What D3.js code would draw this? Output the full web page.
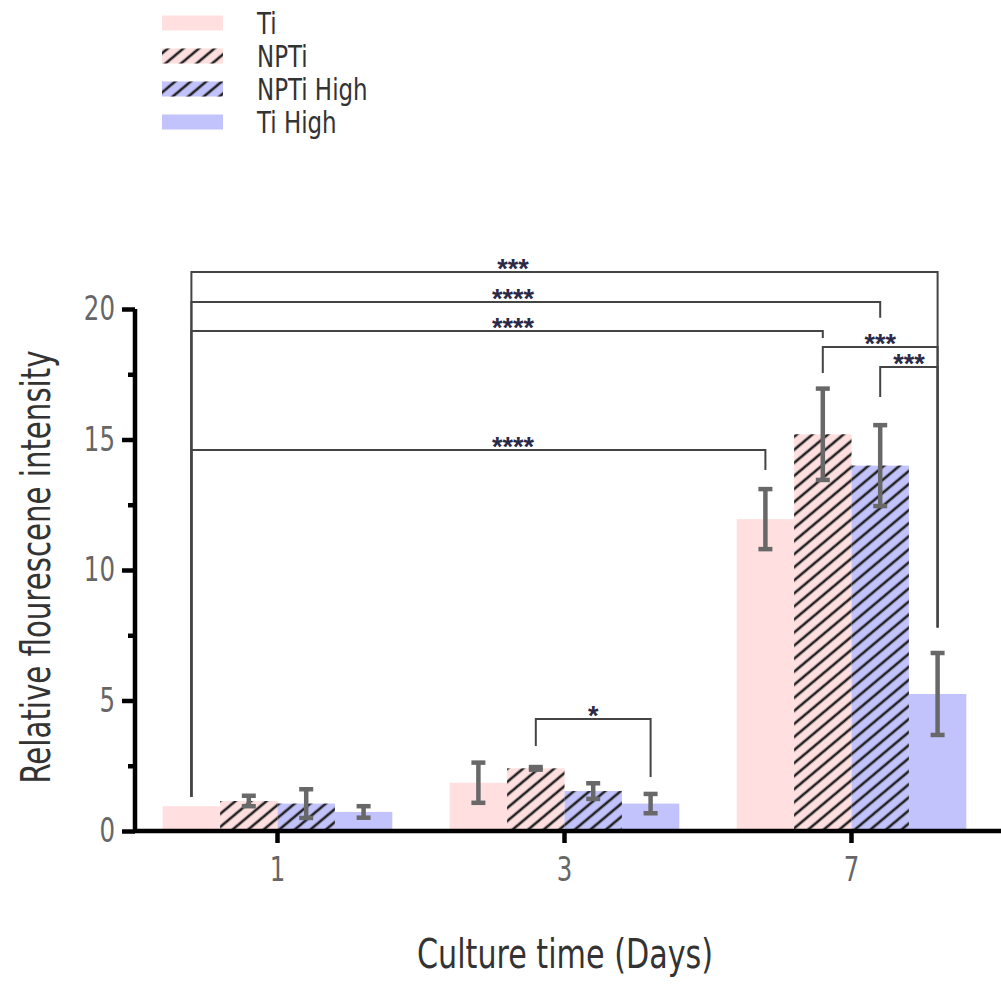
<!DOCTYPE html>
<html>
<head>
<meta charset="utf-8">
<script src="https://cdn.jsdelivr.net/npm/d3@7"></script>
<style>
  html, body { margin: 0; padding: 0; background: #fff; }
  svg { display: block; }
  text { font-family: "Liberation Sans Narrow", "DejaVu Sans Condensed", "DejaVu Sans", sans-serif; font-stretch: condensed; }
</style>
</head>
<body>
<svg id="chart" width="1001" height="989"></svg>
<script>
// ---------------- data ----------------
const days = ["1", "3", "7"];
const seriesNames = ["Ti", "NPTi", "NPTi High", "Ti High"];
const tiValues       = [0.95, 1.85, 11.95];
const tiErrors       = [0,    0.77, 1.15];
const nptiValues     = [1.15, 2.40, 15.20];
const nptiErrors     = [0.20, 0.05, 1.75];
const nptiHighValues = [1.05, 1.53, 14.00];
const nptiHighErrors = [0.55, 0.30, 1.55];
const tiHighValues   = [0.73, 1.05, 5.25];
const tiHighErrors   = [0.22, 0.37, 1.57];
const yMajorTicks = [0, 5, 10, 15, 20];
const yMinorTicks = [2.5, 7.5, 12.5, 17.5];
// significance brackets: [fromDay, fromSeries, toDay, toSeries, level, leftLegEnd, rightLegEnd, label, labelAtFixedX]
const brackets = [
  ["1", "Ti",        "7", "Ti High",   21.42, 1.30, 7.80,  "***",  true],
  ["1", "Ti",        "7", "NPTi High", 20.27, 1.30, 19.66, "****", true],
  ["1", "Ti",        "7", "NPTi",      19.16, 1.30, 18.89, "****", true],
  ["1", "Ti",        "7", "Ti",        14.60, 1.30, 13.83, "****", true],
  ["7", "NPTi",      "7", "Ti High",   18.54, 17.55, 7.80, "***",  false],
  ["7", "NPTi High", "7", "Ti High",   17.78, 16.63, 7.80, "***",  false],
  ["3", "NPTi",      "3", "Ti High",   4.29,  3.26, 2.07,  "*",    false]
];

const valueSets = [tiValues, nptiValues, nptiHighValues, tiHighValues];
const errorSets = [tiErrors, nptiErrors, nptiHighErrors, tiHighErrors];
const fills = ["#ffdfdf", "#ffdfdf", "#c2c2fc", "#c2c2fc"];
const hatched = [false, true, true, false];

// ---------------- helpers ----------------
function condense(sel, factor) {
  sel.each(function () {
    const w = this.getComputedTextLength();
    d3.select(this).attr("textLength", w * factor).attr("lengthAdjust", "spacingAndGlyphs");
  });
}
function fitWidth(sel, width) {
  sel.attr("textLength", width).attr("lengthAdjust", "spacingAndGlyphs");
}

// ---------------- layout ----------------
const svg = d3.select("#chart");
const x0 = d3.scaleBand().domain(days).range([134, 995]).paddingInner(0.2).paddingOuter(0.1);
const x1 = d3.scaleBand().domain(seriesNames).range([0, x0.bandwidth()]).padding(0);
const y = d3.scaleLinear().domain([0, 20]).range([831, 309]);
const barX = (d, s) => x0(d) + x1(s);
const barC = (d, s) => x0(d) + x1(s) + x1.bandwidth() / 2;

// hatch pattern
const defs = svg.append("defs");
const pat = defs.append("pattern")
  .attr("id", "hatch")
  .attr("patternUnits", "userSpaceOnUse")
  .attr("width", 10).attr("height", 10)
  .attr("patternTransform", "rotate(-40)");
pat.append("line")
  .attr("x1", -2).attr("x2", 12).attr("y1", 5).attr("y2", 5)
  .attr("stroke", "#222").attr("stroke-width", 2.6);

// ---------------- bars ----------------
const barData = [];
days.forEach((d, di) => {
  seriesNames.forEach((s, si) => {
    barData.push({ day: d, series: s, si, v: valueSets[si][di], e: errorSets[si][di] });
  });
});

const gBars = svg.append("g");
gBars.selectAll("rect.bar").data(barData).join("rect")
  .attr("class", "bar")
  .attr("x", d => barX(d.day, d.series))
  .attr("width", x1.bandwidth())
  .attr("y", d => y(d.v))
  .attr("height", d => y(0) - y(d.v))
  .attr("fill", d => fills[d.si]);
gBars.selectAll("rect.hatch").data(barData.filter(d => hatched[d.si])).join("rect")
  .attr("class", "hatch")
  .attr("x", d => barX(d.day, d.series))
  .attr("width", x1.bandwidth())
  .attr("y", d => y(d.v))
  .attr("height", d => y(0) - y(d.v))
  .attr("fill", "url(#hatch)");

// ---------------- error bars ----------------
const ERR_COLOR = "#686868";
const capW = 7;
const gErr = svg.append("g").attr("stroke", ERR_COLOR).attr("stroke-width", 4.5).attr("fill", "none");
barData.filter(d => d.e > 0).forEach(d => {
  const cx = barC(d.day, d.series);
  const top = y(d.v + d.e), bot = y(d.v - d.e);
  gErr.append("line").attr("x1", cx).attr("x2", cx).attr("y1", top).attr("y2", bot);
  gErr.append("line").attr("x1", cx - capW).attr("x2", cx + capW).attr("y1", top).attr("y2", top);
  gErr.append("line").attr("x1", cx - capW).attr("x2", cx + capW).attr("y1", bot).attr("y2", bot);
});

// ---------------- significance brackets ----------------
const LONG_LABEL_X = 513;
const gSig = svg.append("g");
brackets.forEach(b => {
  const [d1, s1, d2, s2, lvl, e1, e2, lab, fixed] = b;
  const xa = barC(d1, s1), xb = barC(d2, s2);
  const yl = y(lvl);
  gSig.append("path")
    .attr("d", `M${xa},${y(e1)}V${yl}H${xb}V${y(e2)}`)
    .attr("fill", "none").attr("stroke", "#444").attr("stroke-width", 2);
  gSig.append("text")
    .attr("x", fixed ? LONG_LABEL_X : (xa + xb) / 2)
    .attr("y", yl + 6)
    .attr("text-anchor", "middle")
    .style("font-family", "'Liberation Sans', Arial, sans-serif")
    .style("font-stretch", "normal")
    .style("font-weight", "bold")
    .style("font-size", "27px")
    .attr("fill", "#2a2a48")
    .text(lab);
});

// ---------------- axes ----------------
const yAxis = d3.axisLeft(y).tickValues(yMajorTicks).tickSize(13).tickPadding(7).tickFormat(d3.format("d"));
const gy = svg.append("g").attr("transform", "translate(135,0)").call(yAxis);
gy.select(".domain").attr("stroke", "#000").attr("stroke-width", 4.5).attr("d", `M0,${y(20)}V${y(0) + 2}`);
gy.selectAll(".tick line").attr("stroke", "#000").attr("stroke-width", 4.5);
gy.selectAll(".tick text").attr("fill", "#666").style("font-size", "34px");
condense(gy.selectAll(".tick text"), 0.8);

const yMinor = d3.axisLeft(y).tickValues(yMinorTicks).tickSize(7).tickFormat("");
const gym = svg.append("g").attr("transform", "translate(135,0)").call(yMinor);
gym.select(".domain").remove();
gym.selectAll(".tick line").attr("stroke", "#000").attr("stroke-width", 4.5);

const xAxis = d3.axisBottom(x0).tickSize(12).tickPadding(14).tickSizeOuter(0);
const gx = svg.append("g").attr("transform", `translate(0,${y(0)})`).call(xAxis);
gx.select(".domain").attr("stroke", "#000").attr("stroke-width", 4.5).attr("d", "M133,0H1001");
gx.selectAll(".tick line").attr("stroke", "#000").attr("stroke-width", 4.5);
gx.selectAll(".tick text").attr("fill", "#666").style("font-size", "34px");
condense(gx.selectAll(".tick text"), 0.8);

// axis titles
const yTitle = svg.append("text")
  .attr("transform", "translate(50,567) rotate(-90)")
  .attr("text-anchor", "middle")
  .attr("fill", "#333")
  .style("font-size", "40px")
  .text("Relative flourescene intensity");
fitWidth(yTitle, 433);
const xTitle = svg.append("text")
  .attr("x", 565).attr("y", 968)
  .attr("text-anchor", "middle")
  .attr("fill", "#333")
  .style("font-size", "40px")
  .text("Culture time (Days)");
fitWidth(xTitle, 296);

// ---------------- legend ----------------
const legendRowsY = [23, 56, 89, 122];
const gLeg = svg.append("g");
seriesNames.forEach((s, i) => {
  const cy = legendRowsY[i];
  gLeg.append("rect").attr("x", 162).attr("y", cy - 7.5).attr("width", 61).attr("height", 15).attr("fill", fills[i]);
  if (hatched[i]) {
    gLeg.append("rect").attr("x", 162).attr("y", cy - 7.5).attr("width", 61).attr("height", 15).attr("fill", "url(#hatch)");
  }
  const t = gLeg.append("text")
    .attr("x", 257).attr("y", cy + 11)
    .attr("fill", "#333")
    .style("font-size", "30px")
    .text(s);
  condense(t, 0.85);
});
</script>
</body>
</html>
